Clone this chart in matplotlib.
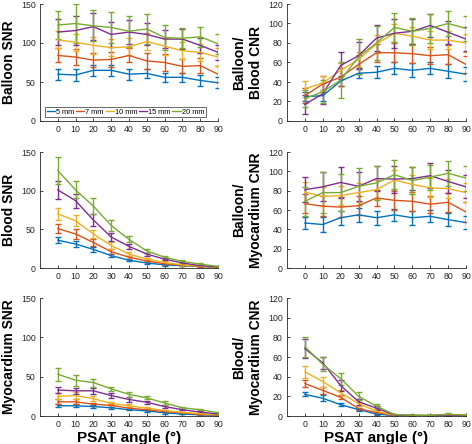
import matplotlib
matplotlib.use('Agg')
import matplotlib.pyplot as plt

plt.rcParams['font.family'] = ['Liberation Sans', 'DejaVu Sans']

angulos = [0, 10, 20, 30, 40, 50, 60, 70, 80, 90]
etiquetas = ['5 mm', '7 mm', '10 mm', '15 mm', '20 mm']
colores = ['#0072BD', '#D95319', '#EDB120', '#7E2F8E', '#77AC30']

# Balloon SNR
balloon_snr = [
    [60, 59, 65, 65, 60, 61, 56, 56, 52, 49],
    [84, 82, 78, 79, 84, 77, 75, 70, 71, 60],
    [104, 101, 97, 94, 95, 102, 96, 90, 88, 82],
    [114, 116, 121, 111, 114, 111, 105, 105, 97, 88],
    [123, 125, 122, 120, 115, 118, 107, 106, 108, 99],
]
balloon_snr_err = [
    [7, 8, 7, 7, 7, 6, 6, 6, 7, 7],
    [9, 10, 9, 10, 9, 10, 11, 9, 10, 10],
    [11, 11, 11, 11, 11, 11, 11, 11, 11, 11],
    [17, 19, 17, 16, 15, 14, 12, 13, 10, 10],
    [18, 25, 20, 20, 20, 19, 16, 13, 13, 13],
]

# Balloon/Blood CNR
balloon_blood_cnr = [
    [25, 26, 41, 49, 50, 54, 52, 54, 51, 48],
    [26, 38, 45, 58, 70, 70, 69, 67, 68, 58],
    [33, 39, 52, 63, 79, 90, 87, 83, 83, 80],
    [17, 28, 57, 67, 85, 90, 92, 98, 91, 84],
    [23, 30, 42, 66, 80, 96, 92, 95, 100, 95],
]
balloon_blood_cnr_err = [
    [5, 6, 5, 5, 6, 6, 7, 6, 7, 7],
    [8, 8, 9, 10, 9, 10, 10, 9, 10, 9],
    [8, 7, 7, 8, 9, 9, 9, 9, 9, 9],
    [10, 11, 14, 14, 13, 15, 13, 12, 12, 12],
    [9, 12, 18, 18, 17, 15, 14, 15, 13, 13],
]

# Blood SNR
blood_snr = [
    [36, 31, 24, 16, 10, 6.5, 4, 3, 2, 1],
    [51, 44, 33, 21, 14, 9, 5.5, 3.5, 2, 1],
    [70, 61, 44, 29, 18, 11.5, 7, 4, 2.5, 1.3],
    [101, 87, 62, 40, 28, 18, 11.5, 6.5, 3, 1.5],
    [126, 101, 80, 55, 37, 22, 14, 8.5, 5, 2],
]
blood_snr_err = [
    [4, 4, 3, 2, 1.5, 1, 1, 0.5, 0.5, 0.5],
    [6, 6, 4, 3, 2, 1.5, 1, 0.5, 0.5, 0.5],
    [8, 7, 5, 4, 3, 2, 1.5, 1, 0.5, 0.5],
    [12, 9, 8, 5, 3, 2, 1.5, 1, 0.5, 0.5],
    [17, 11, 10, 7, 4, 3, 2, 1.5, 1, 1],
]

# Balloon/Myocardium CNR
balloon_myo_cnr = [
    [46.5, 45, 52, 55, 52, 55, 52, 53.5, 50, 47],
    [66.5, 64, 63, 64.5, 72.5, 70, 69, 66, 68, 58],
    [78.5, 74, 75, 78, 81, 91, 86.5, 83, 82, 78],
    [81, 84, 88.5, 84.5, 92.5, 92, 92.5, 95.5, 89.5, 84],
    [69, 78, 78, 84.5, 88, 96.5, 90.5, 94, 98, 93],
]
balloon_myo_cnr_err = [
    [6, 8, 7, 7, 7, 6, 7, 6, 7, 7],
    [10, 10, 10, 10, 8, 10, 10, 9, 10, 10],
    [10, 10, 10, 10, 10, 10, 10, 10, 10, 10],
    [13, 15, 16, 15, 13, 14, 12, 13, 12, 12],
    [15, 21, 19, 19, 18, 15, 14, 13, 13, 13],
]

# Myocardium SNR
myo_snr = [
    [13, 13, 12, 10.5, 8, 6.5, 4, 2.5, 1.5, 1],
    [18, 18, 15, 13.5, 10, 8, 5.5, 4, 2, 1.3],
    [25, 26, 22, 16, 13, 10, 7, 4.5, 3, 1.5],
    [33, 32, 32, 26, 21, 17.5, 12, 8, 5, 2.5],
    [53, 45.5, 42.5, 34.5, 27.5, 23, 16.5, 10.5, 8, 4],
]
myo_snr_err = [
    [2, 2, 2, 1.5, 1, 1, 1, 0.5, 0.5, 0.5],
    [3, 3, 2, 2, 1.5, 1, 1, 0.5, 0.5, 0.5],
    [4, 4, 3, 2, 2, 1.5, 1, 1, 0.5, 0.5],
    [4, 4, 4, 3, 3, 2, 2, 1, 1, 0.5],
    [8, 7, 5, 3, 3, 2, 2, 1.5, 1, 1],
]

# Blood/Myocardium CNR
blood_myo_cnr = [
    [22, 18, 11.5, 6.5, 2, 0.3, 0.3, 0.3, 0.3, 0.3],
    [33, 26, 19, 7.5, 3.5, 0.5, 0.5, 0.5, 0.5, 0.5],
    [45, 35, 23.5, 12.5, 5, 0.7, 0.5, 0.5, 0.5, 0.5],
    [68.5, 54, 31, 14.5, 8, 1, 0.5, 0.4, 1, 0.5],
    [70.5, 52.5, 38, 20, 10, 1.5, 0.8, 0.7, 1.8, 0.8],
]
blood_myo_cnr_err = [
    [2, 3, 1.5, 1, 0.5, 0.3, 0.3, 0.3, 0.3, 0.3],
    [4, 4, 2, 1, 1, 0.3, 0.3, 0.3, 0.3, 0.3],
    [6, 5, 3, 2, 1, 0.5, 0.3, 0.3, 0.3, 0.3],
    [10, 6, 6, 3, 2, 0.5, 0.5, 0.5, 0.5, 0.5],
    [10, 7, 6, 4, 2, 1, 0.5, 0.5, 0.8, 0.5],
]


def grafica(ax, datos, errores, ylabel, ylim, yticks, xlabel=False):
    for serie, err, color, etq in zip(datos, errores, colores, etiquetas):
        ax.errorbar(angulos, serie, yerr=err, color=color, lw=1.0,
                    elinewidth=1.0, capsize=2.2, capthick=1.0, label=etq)
    ax.set_xlim(-10, 90)
    ax.set_ylim(*ylim)
    ax.set_xticks(angulos)
    ax.set_yticks(yticks)
    ax.spines['top'].set_visible(False)
    ax.spines['right'].set_visible(False)
    for s in ['left', 'bottom']:
        ax.spines[s].set_linewidth(0.6)
        ax.spines[s].set_color('#262626')
    ax.tick_params(direction='in', length=2.5, width=0.6, labelsize=6.3,
                   colors='#262626', pad=3)
    ax.set_ylabel(ylabel, fontsize=10, fontweight='bold', labelpad=4)
    if xlabel:
        ax.set_xlabel('PSAT angle (°)', fontsize=11, fontweight='bold', labelpad=1)


fig = plt.figure(figsize=(4.72, 4.44), dpi=100)

izq = [40 / 472, 178 / 472]
der = [287 / 472, 179 / 472]
filas = [(1 - 121 / 444, 117 / 444), (1 - 268 / 444, 116 / 444), (1 - 416 / 444, 118 / 444)]

ax1 = fig.add_axes([izq[0], filas[0][0], izq[1], filas[0][1]])
ax2 = fig.add_axes([der[0], filas[0][0], der[1], filas[0][1]])
ax3 = fig.add_axes([izq[0], filas[1][0], izq[1], filas[1][1]])
ax4 = fig.add_axes([der[0], filas[1][0], der[1], filas[1][1]])
ax5 = fig.add_axes([izq[0], filas[2][0], izq[1], filas[2][1]])
ax6 = fig.add_axes([der[0], filas[2][0], der[1], filas[2][1]])

grafica(ax1, balloon_snr, balloon_snr_err, 'Balloon SNR', (0, 150), [0, 50, 100, 150])
grafica(ax2, balloon_blood_cnr, balloon_blood_cnr_err, 'Balloon/\nBlood CNR', (0, 120), range(0, 121, 20))
grafica(ax3, blood_snr, blood_snr_err, 'Blood SNR', (0, 150), [0, 50, 100, 150])
grafica(ax4, balloon_myo_cnr, balloon_myo_cnr_err, 'Balloon/\nMyocardium CNR', (0, 120), range(0, 121, 20))
grafica(ax5, myo_snr, myo_snr_err, 'Myocardium SNR', (0, 150), [0, 50, 100, 150], xlabel=True)
grafica(ax6, blood_myo_cnr, blood_myo_cnr_err, 'Blood/\nMyocardium CNR', (0, 120), range(0, 121, 20), xlabel=True)

handles = [plt.Line2D([], [], color=c, lw=1.0) for c in colores]
leg = ax1.legend(handles, etiquetas, ncol=5, loc='lower left', bbox_to_anchor=(0.03, 0.03),
                 fontsize=5.3, handlelength=1.1, handletextpad=0.15, columnspacing=0.25,
                 borderpad=0.2, borderaxespad=0, frameon=True, fancybox=False)
leg.get_frame().set_edgecolor('#262626')
leg.get_frame().set_linewidth(0.6)

fig.savefig('out.png', dpi=100)
